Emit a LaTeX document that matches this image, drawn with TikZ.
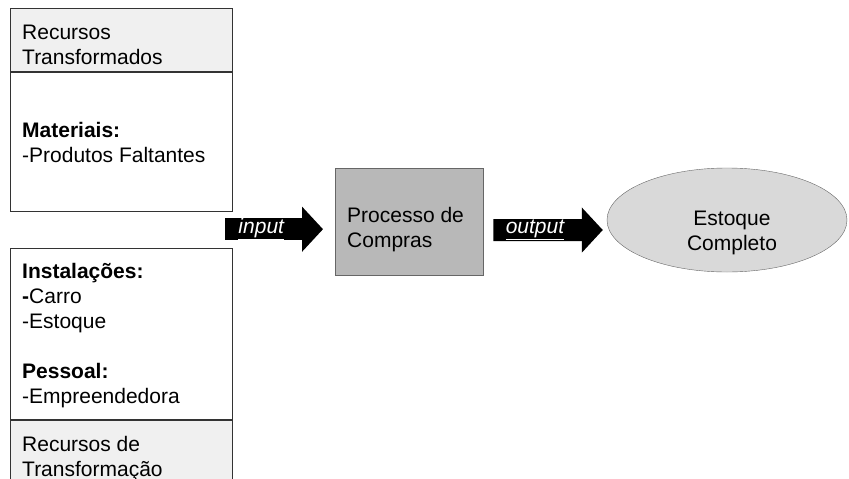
\documentclass[tikz,border=0pt]{standalone}
\usepackage{fontspec}
\setmainfont{Liberation Sans}
\usetikzlibrary{arrows.meta,shapes.geometric}

\tikzstyle{panel} = [draw=black!80, line width=0.8pt, minimum width=222pt, inner sep=0pt, anchor=north west]
\tikzstyle{head} = [fill=black!6]
\tikzstyle{txt} = [align=left, anchor=north west, inner sep=0pt, font=\fontsize{21}{25}\selectfont]
\tikzstyle{flow} = [line width=22pt, -{Triangle[length=21pt,width=44pt]}]
\tikzstyle{flowtxt} = [text=white, inner sep=0pt, font=\fontsize{21}{25}\selectfont\itshape]

\begin{document}
\begin{tikzpicture}[x=1pt, y=-1pt]
  \useasboundingbox (0,0) rectangle (849,479);
  % resource panels
  \node (recT) at (10,8) [panel, head, minimum height=63pt] {};
  \node (matB) at (recT.south west) [panel, minimum height=139pt] {};
  \node (instB) at (10,248) [panel, minimum height=171pt] {};
  \node (recF) at (instB.south west) [panel, head, minimum height=66pt] {};
  \node (tRecT) at (22,25) [txt] {Recursos\\Transformados};
  \node (tMat) at (22,122) [txt] {\textbf{Materiais:}\\-Produtos Faltantes};
  \node (tInst) at (22,263) [txt] {\textbf{Instalações:}\\\textbf{-}Carro\\-Estoque\\[25pt]\textbf{Pessoal:}\\-Empreendedora};
  \node (tRecF) at (22,436) [txt] {Recursos de\\Transformação};
  % process and result
  \node (proc) at (335,168) [draw=black!60, fill=black!28, minimum width=148pt, minimum height=107pt, anchor=north west] {};
  \node (tProc) at (347,207) [txt] {Processo de\\Compras};
  \node (stock) at (727,220) [ellipse, draw=black!60, fill=black!15, minimum width=240pt, minimum height=104pt] {};
  \node (tStock) at (732,211) [txt, align=center, anchor=north] {Estoque\\Completo};
  % arrows
  \path (proc.west) ++(-110,7.5) coordinate (inS);
  \path (proc.west) ++(-12,7.5) coordinate (inE);
  \path (proc.east) ++(10,8.5) coordinate (outS);
  \path (stock.west) ++(-4,10) coordinate (outE);
  \draw [flow] (inS) -- node [flowtxt, pos=.37] {\underline{input}} (inE);
  \draw [flow] (outS) -- node [flowtxt, pos=.38] {\underline{output}} (outE);
\end{tikzpicture}
\end{document}
